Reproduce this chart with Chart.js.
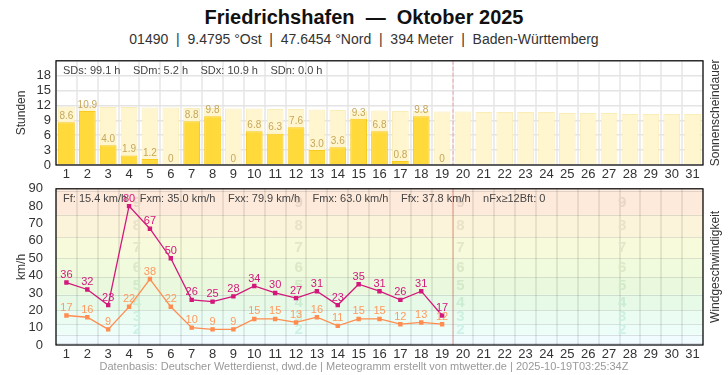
<!DOCTYPE html>
<html>
<head>
<meta charset="utf-8">
<script src="https://cdn.jsdelivr.net/npm/chart.js@4.4.0/dist/chart.umd.min.js"></script>
<style>
body { margin: 0; width: 728px; height: 375px; background: #fff; font-family: "Liberation Sans", Arial, sans-serif; position: relative; overflow: hidden; }
.txt { position: absolute; left: 0; width: 728px; text-align: center; white-space: pre; }
#title { top: 6px; font-size: 20px; font-weight: bold; color: #111; }
#sub { top: 31px; font-size: 14px; color: #333; }
#foot { top: 360px; font-size: 11px; color: #999; }
#box1 { position: absolute; left: 0; top: 48px; width: 728px; height: 134px; }
#box2 { position: absolute; left: 0; top: 176px; width: 728px; height: 186px; }
</style>
</head>
<body>
<div class="txt" id="title">Friedrichshafen  —  Oktober 2025</div>
<div class="txt" id="sub">01490  |  9.4795 °Ost  |  47.6454 °Nord  |  394 Meter  |  Baden-Württemberg</div>
<div id="box1"><canvas id="sun"></canvas></div>
<div id="box2"><canvas id="wind"></canvas></div>
<div class="txt" id="foot">Datenbasis: Deutscher Wetterdienst, dwd.de | Meteogramm erstellt von mtwetter.de | 2025-10-19T03:25:34Z</div>
<script>
var days = ['1','2','3','4','5','6','7','8','9','10','11','12','13','14','15','16',
    '17','18','19','20','21','22','23','24','25','26','27','28','29','30','31'];
var sunHours = [8.6, 10.9, 4.0, 1.9, 1.2, 0, 8.8, 9.8, 0, 6.8, 6.3, 7.6, 3.0, 3.6, 9.3, 6.8, 0.8, 9.8, 0];
var sunPossible = [11.8, 11.8, 11.7, 11.7, 11.6, 11.6, 11.5, 11.5, 11.4, 11.4, 11.3, 11.3, 11.2, 11.1, 11.0, 11.0,
    10.9, 10.9, 10.8, 10.8, 10.7, 10.7, 10.7, 10.7, 10.5, 10.5, 10.5, 10.3, 10.3, 10.3, 10.3];
var gustMax = [36, 32, 23, 80, 67, 50, 26, 25, 28, 34, 30, 27, 31, 23, 35, 31, 26, 31, 17];
var windMean = [17, 16, 9, 22, 38, 22, 10, 9, 9, 15, 15, 13, 16, 11, 15, 15, 12, 13, 12];
var sunStats = ['SDs: 99.1 h', 'SDm: 5.2 h', 'SDx: 10.9 h', 'SDn: 0.0 h'];
var windStats = ['Ff: 15.4 km/h', 'Fxm: 35.0 km/h', 'Fxx: 79.9 km/h', 'Fmx: 63.0 km/h', 'Ffx: 37.8 km/h', 'nFx≥12Bft: 0'];
var bftEdges = [0, 1, 6, 12, 20, 29, 39, 50, 62, 75, 89, 90];
var bftBandColors = ['#f0f9ff', '#f0fcff', '#edfef9', '#ebfdf2', '#e6fae7', '#eaf9dd', '#f0fadc', '#f7fbdc', '#fcf4da', '#fdeadb', '#fdeadb'];
var bftDigitColors = { 2: '#cdf1e7', 3: '#cdf1df', 4: '#caedd2', 5: '#d2eac8', 6: '#dbe8c8', 7: '#e3e6c9', 8: '#e9e1c8', 9: '#e9d5c5' };
var todayIndex = 19;

var font = '"Liberation Sans", Arial, sans-serif';
Chart.defaults.font.family = font;
Chart.defaults.animation = false;

// value labels above bars and points
var valueLabels = {
    id: 'valueLabels',
    afterDatasetsDraw: function(chart) {
        var ctx = chart.ctx;
        chart.data.datasets.forEach(function(ds, i) {
            if (!ds.labelColor) return;
            var meta = chart.getDatasetMeta(i);
            ctx.save();
            ctx.fillStyle = ds.labelColor;
            ctx.font = ds.labelSize + 'px ' + font;
            ctx.textAlign = 'center';
            ctx.textBaseline = 'bottom';
            meta.data.forEach(function(el, j) {
                var v = ds.data[j];
                if (v == null) return;
                var t = ds.labelDecimals && v !== 0 ? v.toFixed(ds.labelDecimals) : String(v);
                ctx.fillText(t, el.x, el.y - ds.labelGap);
            });
            ctx.restore();
        });
    }
};

// frame, side titles, stats line, "today" marker
var extras = {
    id: 'extras',
    afterDraw: function(chart, args, o) {
        var ctx = chart.ctx, a = chart.chartArea;
        ctx.save();
        var xs = chart.scales.x;
        var mx = (xs.getPixelForValue(todayIndex - 1) + xs.getPixelForValue(todayIndex)) / 2;
        ctx.strokeStyle = o.markColor;
        ctx.lineWidth = 1;
        if (o.markDash) ctx.setLineDash(o.markDash);
        ctx.beginPath();
        ctx.moveTo(mx + 0.5, a.top);
        ctx.lineTo(mx + 0.5, a.bottom);
        ctx.stroke();
        ctx.setLineDash([]);

        ctx.strokeStyle = '#000';
        ctx.lineWidth = 1.2;
        ctx.strokeRect(a.left, a.top, a.right - a.left, a.bottom - a.top);

        ctx.fillStyle = '#444';
        ctx.font = '11px ' + font;
        ctx.textBaseline = 'middle';
        ctx.textAlign = 'left';
        var x = a.left + 7;
        o.stats.forEach(function(s) {
            ctx.fillText(s, x, a.top + 10);
            x += ctx.measureText(s).width + 12.5;
        });

        ctx.fillStyle = '#333';
        ctx.font = '12px ' + font;
        ctx.textAlign = 'center';
        var cy = (a.top + a.bottom) / 2;
        ctx.translate(22, cy);
        ctx.rotate(-Math.PI / 2);
        ctx.fillText(o.left, 0, 0);
        ctx.rotate(Math.PI / 2);
        ctx.translate(716 - 22, 0);
        ctx.rotate(-Math.PI / 2);
        ctx.fillText(o.right, 0, 0);
        ctx.restore();
    }
};

// Beaufort background bands
var bftBands = {
    id: 'bftBands',
    beforeDraw: function(chart) {
        if (!chart.options.plugins.bftBands) return;
        var ctx = chart.ctx, a = chart.chartArea, ys = chart.scales.y;
        ctx.save();
        for (var i = 0; i < bftEdges.length - 1; i++) {
            var y1 = ys.getPixelForValue(bftEdges[i]);
            var y2 = ys.getPixelForValue(bftEdges[i + 1]);
            ctx.fillStyle = bftBandColors[i];
            ctx.fillRect(a.left, y2, a.right - a.left, y1 - y2);
        }
        ctx.strokeStyle = 'rgba(0,0,0,0.11)';
        ctx.lineWidth = 1;
        for (var k = 1; k < bftEdges.length - 1; k++) {
            var y = Math.round(ys.getPixelForValue(bftEdges[k])) + 0.5;
            ctx.beginPath();
            ctx.moveTo(a.left, y);
            ctx.lineTo(a.right, y);
            ctx.stroke();
        }
        ctx.restore();
    },
    beforeDatasetsDraw: function(chart) {
        if (!chart.options.plugins.bftBands) return;
        var ctx = chart.ctx, a = chart.chartArea, ys = chart.scales.y;
        ctx.save();
        ctx.font = 'bold 15px ' + font;
        ctx.textAlign = 'center';
        ctx.textBaseline = 'middle';
        [1, 3, 5, 7].forEach(function(f) {
            var x = a.left + (a.right - a.left) * f / 8;
            for (var b = 2; b <= 9; b++) {
                var mid = (bftEdges[b] + bftEdges[b + 1]) / 2;
                ctx.fillStyle = bftDigitColors[b];
                ctx.fillText(String(b), x, ys.getPixelForValue(mid));
            }
        });
        ctx.restore();
    }
};

function xAxis(gridColor) {
    return {
        offset: true,
        grid: { offset: true, color: gridColor, lineWidth: 2, drawTicks: false },
        border: { display: false },
        ticks: { color: '#333', font: { size: 13 }, padding: 2, maxRotation: 0, autoSkip: false },
        afterFit: function(s) { s.height = 17; }
    };
}

new Chart(document.getElementById('sun'), {
    type: 'bar',
    data: {
        labels: days,
        datasets: [{
            data: sunHours,
            backgroundColor: '#ffda3a',
            borderColor: '#f9cb20',
            borderWidth: 1,
            grouped: false,
            barPercentage: 0.8,
            categoryPercentage: 1,
            labelColor: '#c6a75a',
            labelSize: 10,
            labelGap: 1,
            labelDecimals: 1
        }, {
            data: sunPossible,
            backgroundColor: '#fff5cf',
            borderColor: '#fbedb8',
            borderWidth: 1,
            grouped: false,
            barPercentage: 0.8,
            categoryPercentage: 1
        }]
    },
    options: {
        responsive: true,
        maintainAspectRatio: false,
        layout: { padding: { top: 7, right: 25, left: 0, bottom: 0 } },
        plugins: {
            legend: { display: false },
            tooltip: { enabled: false },
            extras: { stats: sunStats, left: 'Stunden', right: 'Sonnenscheindauer', markColor: 'rgba(240,120,130,0.6)', markDash: [4, 2] }
        },
        scales: {
            x: xAxis('#ececec'),
            y: {
                min: 0, max: 21,
                grid: { color: '#e4e4e4', lineWidth: 1.5, drawTicks: false },
                border: { display: false },
                ticks: { stepSize: 3, autoSkip: false, color: '#333', font: { size: 13 }, padding: 5,
                    callback: function(v) { return v > 18 ? '' : v; } },
                afterFit: function(s) { s.width = 56; }
            }
        }
    },
    plugins: [valueLabels, extras]
});

new Chart(document.getElementById('wind'), {
    type: 'line',
    data: {
        labels: days,
        datasets: [{
            data: gustMax,
            borderColor: '#d3187c',
            backgroundColor: '#d3187c',
            borderWidth: 1.3,
            pointStyle: 'rect',
            pointRadius: 2.2,
            tension: 0,
            labelColor: '#d3187c',
            labelSize: 11,
            labelGap: 2
        }, {
            data: windMean,
            borderColor: '#ff8c50',
            backgroundColor: '#ff8c50',
            borderWidth: 1.3,
            pointStyle: 'rect',
            pointRadius: 2.2,
            tension: 0,
            labelColor: '#ff9a60',
            labelSize: 11,
            labelGap: 2
        }]
    },
    options: {
        responsive: true,
        maintainAspectRatio: false,
        layout: { padding: { top: 9, right: 25, left: 0, bottom: 0 } },
        plugins: {
            legend: { display: false },
            tooltip: { enabled: false },
            bftBands: true,
            extras: { stats: windStats, left: 'km/h', right: 'Windgeschwindigkeit', markColor: 'rgba(235,110,90,0.55)' }
        },
        scales: {
            x: xAxis('rgba(0,0,0,0.08)'),
            y: {
                min: 0, max: 90,
                grid: { display: false },
                border: { display: false },
                ticks: { stepSize: 10, autoSkip: false, color: '#333', font: { size: 13 }, padding: 5 },
                afterFit: function(s) { s.width = 56; }
            }
        }
    },
    plugins: [bftBands, valueLabels, extras]
});
</script>
</body>
</html>
